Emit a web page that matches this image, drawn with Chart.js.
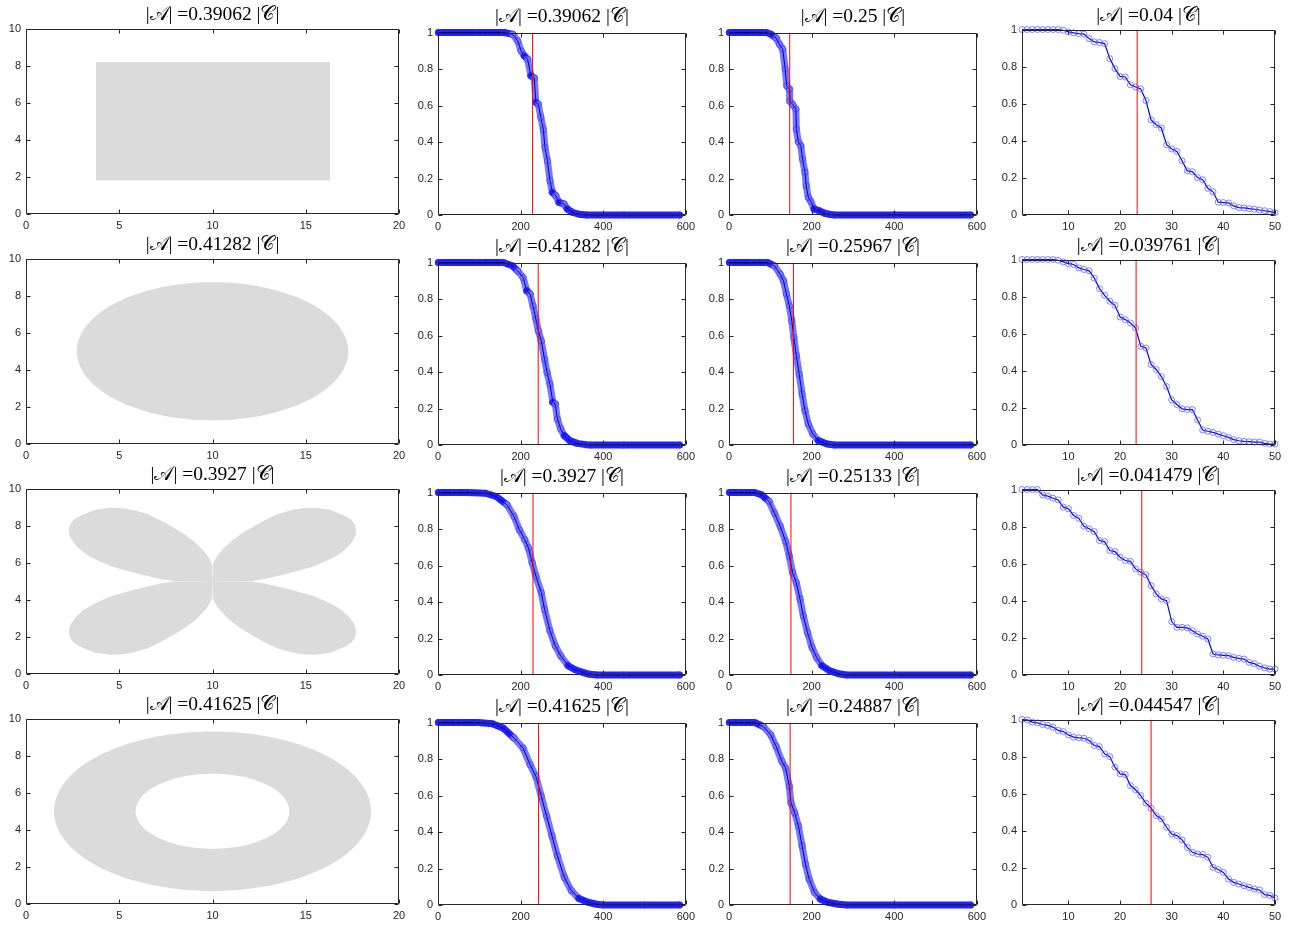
<!DOCTYPE html>
<html>
<head>
<meta charset="utf-8">
<script src="https://cdn.jsdelivr.net/npm/chart.js@4.4.1/dist/chart.umd.min.js"></script>
<style>
  html, body { margin: 0; padding: 0; background: #fff; }
  body { position: relative; width: 1303px; height: 928px; overflow: hidden; }
  canvas { position: absolute; }
</style>
</head>
<body>
<script>
// tick labels
const shapeXTicks = [0, 5, 10, 15, 20];
const shapeYTicks = [0, 2, 4, 6, 8, 10];
const sweepXTicks = [0, 200, 400, 600];
const idxXTicks = [10, 20, 30, 40, 50];
const probTicks = [0, 0.2, 0.4, 0.6, 0.8, 1];

// titles: |A| = v |C|
const titleCol1 = ['0.39062', '0.41282', '0.3927', '0.41625'];
const titleCol2 = ['0.39062', '0.41282', '0.3927', '0.41625'];
const titleCol3 = ['0.25', '0.25967', '0.25133', '0.24887'];
const titleCol4 = ['0.04', '0.039761', '0.041479', '0.044547'];

// column 1 shapes
const rectX = [3.75, 16.3, 16.3, 3.75];
const rectY = [1.8, 1.8, 8.2, 8.2];
const ellCenter = [10, 5];
const ellRadii = [7.28, 3.72];
// upper-left petal outline, the other three are its mirror images about (10, 5)
const petalX = [10, 7.9, 7.2, 6.64, 6.0, 5.39, 4.6, 3.96, 3.45, 3.07, 2.7, 2.45, 2.33, 2.3, 2.36, 2.55, 2.8, 3.07, 3.7, 4.5, 5.2, 5.75, 6.5, 7.18, 7.85, 8.43, 8.95, 9.32, 9.6, 9.77, 9.9, 9.98, 10];
const petalY = [5, 5.02, 5.12, 5.25, 5.4, 5.56, 5.8, 6.06, 6.32, 6.56, 6.9, 7.22, 7.5, 7.76, 8.05, 8.3, 8.48, 8.6, 8.85, 8.96, 8.93, 8.84, 8.62, 8.3, 7.93, 7.58, 7.2, 6.86, 6.55, 6.33, 6.1, 5.88, 5];
const ringCenter = [10, 5];
const ringOuter = [8.5, 4.3];
const ringInner = [4.12, 2.02];

// column 2 curves
const c2x1 = [1, 100, 161, 181, 193, 201, 209, 217, 225, 233, 237, 243, 249, 255, 259, 265, 271, 277, 285, 293, 305, 313, 325, 341, 360, 450, 585];
const c2y1 = [1, 1, 1, 0.99, 0.954, 0.9, 0.872, 0.854, 0.763, 0.75, 0.617, 0.606, 0.535, 0.47, 0.37, 0.297, 0.188, 0.124, 0.106, 0.069, 0.06, 0.033, 0.015, 0.004, 0, 0, 0];
const c2x2 = [1, 100, 158, 180, 193, 206, 215, 223, 230, 237, 243, 250, 258, 264, 271, 278, 284, 289, 297, 306, 319, 337, 358, 370, 450, 585];
const c2y2 = [1, 1, 1, 0.982, 0.954, 0.918, 0.845, 0.827, 0.763, 0.69, 0.626, 0.571, 0.47, 0.398, 0.334, 0.234, 0.224, 0.142, 0.088, 0.051, 0.024, 0.009, 0.002, 0, 0, 0];
const c2x3 = [1, 40, 71, 115, 141, 167, 184, 197, 210, 219, 228, 237, 250, 258, 271, 284, 297, 315, 332, 350, 367, 385, 450, 585];
const c2y3 = [1, 1, 1, 0.996, 0.978, 0.933, 0.869, 0.796, 0.742, 0.696, 0.615, 0.542, 0.451, 0.36, 0.242, 0.16, 0.105, 0.051, 0.029, 0.015, 0.004, 0, 0, 0];
const c2x4 = [1, 50, 97, 132, 158, 184, 206, 223, 237, 250, 263, 276, 289, 306, 323, 341, 363, 384, 400, 500, 585];
const c2y4 = [1, 1, 1, 0.993, 0.969, 0.915, 0.86, 0.769, 0.705, 0.596, 0.487, 0.378, 0.269, 0.151, 0.078, 0.036, 0.015, 0.004, 0, 0, 0];

// column 3 curves
const c3x1 = [1, 60, 90, 102, 114, 122, 130, 136, 140, 146, 147, 154, 162, 163, 168, 174, 178, 184, 187, 192, 198, 206, 218, 230, 242, 255, 400, 585];
const c3y1 = [1, 1, 1, 0.99, 0.97, 0.936, 0.91, 0.8, 0.708, 0.69, 0.624, 0.606, 0.58, 0.47, 0.4, 0.38, 0.307, 0.234, 0.16, 0.097, 0.075, 0.033, 0.024, 0.011, 0.004, 0, 0, 0];
const c3x2 = [1, 60, 93, 110, 124, 132, 139, 146, 152, 157, 163, 170, 177, 184, 192, 203, 216, 238, 255, 400, 585];
const c3y2 = [1, 1, 1, 0.982, 0.936, 0.9, 0.827, 0.763, 0.68, 0.589, 0.489, 0.388, 0.279, 0.188, 0.115, 0.06, 0.024, 0.005, 0, 0, 0];
const c3x3 = [1, 30, 62, 79, 97, 110, 124, 137, 146, 154, 163, 172, 180, 190, 201, 212, 225, 243, 265, 285, 400, 585];
const c3y3 = [1, 1, 1, 0.987, 0.951, 0.887, 0.815, 0.733, 0.651, 0.56, 0.505, 0.415, 0.324, 0.233, 0.151, 0.096, 0.051, 0.024, 0.007, 0, 0, 0];
const c3x4 = [1, 30, 62, 83, 101, 114, 128, 137, 146, 150, 159, 168, 177, 185, 194, 207, 221, 238, 265, 285, 400, 585];
const c3y4 = [1, 1, 1, 0.978, 0.933, 0.869, 0.787, 0.751, 0.651, 0.56, 0.505, 0.433, 0.324, 0.224, 0.142, 0.069, 0.033, 0.015, 0.004, 0, 0, 0];

// column 4 curves (index 1..50)
const idx50 = Array.from({length: 50}, (_, i) => i + 1);
const c4y1 = [1, 1, 1, 1, 1, 1, 1, 1, 0.996, 0.987,
  0.982, 0.978, 0.975, 0.951, 0.933, 0.93, 0.924, 0.843, 0.789, 0.747,
  0.744, 0.702, 0.69, 0.68, 0.617, 0.513, 0.487, 0.469, 0.379, 0.356,
  0.343, 0.292, 0.238, 0.233, 0.202, 0.19, 0.144, 0.125, 0.069, 0.067,
  0.065, 0.049, 0.04, 0.038, 0.034, 0.031, 0.027, 0.023, 0.018, 0.013];
const c4y2 = [1, 1, 1, 1, 1, 1, 1, 0.996, 0.987, 0.978,
  0.973, 0.955, 0.946, 0.939, 0.9, 0.843, 0.807, 0.775, 0.753, 0.69,
  0.676, 0.658, 0.631, 0.532, 0.523, 0.434, 0.407, 0.369, 0.315, 0.243,
  0.218, 0.195, 0.191, 0.191, 0.135, 0.081, 0.074, 0.068, 0.059, 0.05,
  0.041, 0.029, 0.023, 0.02, 0.018, 0.016, 0.016, 0.009, 0.005, 0.005];
const c4y3 = [1, 1, 1, 1, 0.971, 0.964, 0.953, 0.944, 0.905, 0.896,
  0.86, 0.845, 0.802, 0.788, 0.773, 0.725, 0.719, 0.671, 0.665, 0.635,
  0.617, 0.613, 0.572, 0.554, 0.54, 0.482, 0.437, 0.41, 0.401, 0.288,
  0.257, 0.257, 0.254, 0.239, 0.221, 0.209, 0.194, 0.113, 0.108, 0.106,
  0.104, 0.095, 0.09, 0.086, 0.068, 0.061, 0.047, 0.038, 0.032, 0.032];
const c4y4 = [1, 0.998, 0.986, 0.982, 0.973, 0.968, 0.959, 0.941, 0.935, 0.917,
  0.905, 0.901, 0.899, 0.887, 0.86, 0.854, 0.815, 0.8, 0.743, 0.707,
  0.703, 0.644, 0.621, 0.59, 0.549, 0.522, 0.482, 0.464, 0.419, 0.383,
  0.374, 0.351, 0.311, 0.284, 0.275, 0.272, 0.257, 0.203, 0.191, 0.176,
  0.14, 0.122, 0.113, 0.104, 0.095, 0.086, 0.081, 0.056, 0.052, 0.038];

// red threshold lines
const cutCol2 = [229, 242.6, 230, 243.5];
const cutCol3 = [147, 156, 150, 148];
const cutCol4 = [23.3, 23.1, 24.2, 26.0];

// layout
const colBox = [
  {left: 26, right: 399, top: 28, bottom: 213, yw: 26, pb: 4},
  {left: 438, right: 688, top: 32, bottom: 214, yw: 34, pb: 6},
  {left: 729, right: 979, top: 32, bottom: 214, yw: 34, pb: 6},
  {left: 1022, right: 1275, top: 29, bottom: 214, yw: 34, pb: 4}
];
const ROW_STEP = 230, TITLE_SIZE = 19.5, XH = 20, RPAD = 12;
const AXIS_COLOR = '#262626';
const SHAPE_GRAY = '#dbdbdb';

const zip = (xs, ys) => xs.map((x, i) => ({x, y: ys[i]}));
const ellipse = (c, r) => {
  const pts = [];
  for (let k = 0; k < 120; k++) {
    const t = 2 * Math.PI * k / 120;
    pts.push({x: c[0] + r[0] * Math.cos(t), y: c[1] + r[1] * Math.sin(t)});
  }
  return pts;
};

// fill closed outlines (points placed by the chart's scales)
const polyFill = {
  id: 'polyFill',
  beforeDatasetsDraw(chart) {
    const ctx = chart.ctx, a = chart.chartArea;
    ctx.save();
    ctx.beginPath();
    ctx.rect(a.left, a.top, a.right - a.left, a.bottom - a.top);
    ctx.clip();
    chart.data.datasets.forEach((ds, i) => {
      if (!ds.polygon) return;
      const pts = chart.getDatasetMeta(i).data;
      ctx.beginPath();
      pts.forEach((p, j) => j ? ctx.lineTo(p.x, p.y) : ctx.moveTo(p.x, p.y));
      ctx.closePath();
      ctx.fillStyle = ds.fillColor;
      ctx.fill();
    });
    ctx.restore();
  }
};

// box frame with inward ticks on all sides
const frame = {
  id: 'frame',
  afterDatasetsDraw(chart) {
    const {ctx, chartArea: a} = chart;
    const xs = chart.scales.x, ys = chart.scales.y;
    const L = Math.round(a.left) + 0.5, R = Math.round(a.right) - 0.5;
    const T = Math.round(a.top) + 0.5, B = Math.round(a.bottom) - 0.5;
    ctx.save();
    ctx.strokeStyle = AXIS_COLOR;
    ctx.lineWidth = 1;
    ctx.beginPath();
    ctx.rect(L, T, R - L, B - T);
    xs.ticks.forEach(t => {
      const px = Math.round(xs.getPixelForValue(t.value)) + 0.5;
      ctx.moveTo(px, B); ctx.lineTo(px, B - 4);
      ctx.moveTo(px, T); ctx.lineTo(px, T + 4);
    });
    ys.ticks.forEach(t => {
      const py = Math.round(ys.getPixelForValue(t.value)) + 0.5;
      ctx.moveTo(L, py); ctx.lineTo(L + 4, py);
      ctx.moveTo(R, py); ctx.lineTo(R - 4, py);
    });
    ctx.stroke();
    ctx.restore();
  }
};

function axis(min, max, ticks, fit) {
  return {
    type: 'linear', min, max,
    afterBuildTicks: s => { s.ticks = ticks.map(v => ({value: v})); },
    afterFit: fit,
    grid: {display: false, drawTicks: false},
    border: {display: false},
    ticks: {
      autoSkip: false, maxRotation: 0, padding: 5, color: AXIS_COLOR,
      font: {family: "'Liberation Sans', Arial, sans-serif", size: 11},
      callback: v => String(v)
    }
  };
}

function addChart(col, row, value, datasets, xr, yr) {
  const g = colBox[col];
  const th = TITLE_SIZE + g.pb;
  const cv = document.createElement('canvas');
  const w = g.yw + (g.right - g.left) + RPAD;
  const h = Math.round(th + (g.bottom - g.top) + XH);
  cv.width = w; cv.height = h;
  cv.style.width = w + 'px'; cv.style.height = h + 'px';
  cv.style.left = (g.left - g.yw) + 'px';
  cv.style.top = Math.round(g.top + row * ROW_STEP - th) + 'px';
  document.body.appendChild(cv);
  new Chart(cv, {
    type: 'scatter',
    data: {datasets},
    options: {
      responsive: false, animation: false, devicePixelRatio: 1,
      layout: {padding: {left: 0, top: 0, right: RPAD, bottom: 0}},
      scales: {
        x: axis(xr[0], xr[1], xr[2], s => { s.height = XH; }),
        y: axis(yr[0], yr[1], yr[2], s => { s.width = g.yw; })
      },
      plugins: {
        legend: {display: false},
        tooltip: {enabled: false},
        title: {
          display: true,
          fullSize: false,
          text: '|\u{1D49C}| =' + value + ' |\u{1D49E}|',
          color: '#000',
          font: {family: "'Liberation Serif', 'DejaVu Serif', serif", size: TITLE_SIZE, lineHeight: 1, weight: 'normal'},
          padding: {top: 0, bottom: g.pb}
        }
      }
    },
    plugins: [polyFill, frame]
  });
}

const shapeSet = (pts, color) => ({data: pts, polygon: true, fillColor: color, showLine: false, pointRadius: 0});
const cutSet = (x) => ({
  data: [{x, y: 0}, {x, y: 1}], showLine: true, borderColor: '#ff0000', borderWidth: 1,
  pointRadius: 0, order: 1
});
const steep = c => Math.abs(c.p1.y - c.p0.y) > Math.abs(c.p1.x - c.p0.x);
const sweepSets = (xs, ys, cut) => [
  {
    data: zip(xs, ys), showLine: true, borderWidth: 7, borderColor: '#2020ff',
    segment: {borderColor: c => steep(c) ? '#7878ff' : '#2020ff'},
    borderCapStyle: 'round', borderJoinStyle: 'round', pointRadius: 0, clip: false, order: 3
  },
  {
    data: zip(xs, ys), showLine: true, borderWidth: 1, borderColor: '#0000b4',
    pointRadius: 3.2, pointBorderWidth: 1, pointBorderColor: 'rgba(50,50,255,0.6)',
    pointBackgroundColor: 'rgba(0,0,0,0)', clip: false, order: 2
  },
  cutSet(cut)
];
const idxSets = (ys, cut) => [
  {
    data: zip(idx50, ys), showLine: true, borderWidth: 1.2, borderColor: '#0000ff',
    pointRadius: 3, pointBorderWidth: 1, pointBorderColor: 'rgba(90,90,255,0.75)',
    pointBackgroundColor: 'rgba(0,0,0,0)', clip: false, order: 2
  },
  cutSet(cut)
];

const shapeRange = [[0, 20, shapeXTicks], [0, 10, shapeYTicks]];
const sweepRange = [[0, 600, sweepXTicks], [0, 1, probTicks]];
const idxRange = [[1, 50, idxXTicks], [0, 1, probTicks]];

const shapes = [
  [shapeSet(zip(rectX, rectY), SHAPE_GRAY)],
  [shapeSet(ellipse(ellCenter, ellRadii), SHAPE_GRAY)],
  [[1, 1], [-1, 1], [1, -1], [-1, -1]].map(([sx, sy]) =>
    shapeSet(petalX.map((x, i) => ({x: 10 + sx * (x - 10), y: 5 + sy * (petalY[i] - 5)})), SHAPE_GRAY)),
  [shapeSet(ellipse(ringCenter, ringOuter), SHAPE_GRAY), shapeSet(ellipse(ringCenter, ringInner), '#ffffff')]
];
const col2 = [[c2x1, c2y1], [c2x2, c2y2], [c2x3, c2y3], [c2x4, c2y4]];
const col3 = [[c3x1, c3y1], [c3x2, c3y2], [c3x3, c3y3], [c3x4, c3y4]];
const col4 = [c4y1, c4y2, c4y3, c4y4];

for (let r = 0; r < 4; r++) {
  addChart(0, r, titleCol1[r], shapes[r], ...shapeRange);
  addChart(1, r, titleCol2[r], sweepSets(col2[r][0], col2[r][1], cutCol2[r]), ...sweepRange);
  addChart(2, r, titleCol3[r], sweepSets(col3[r][0], col3[r][1], cutCol3[r]), ...sweepRange);
  addChart(3, r, titleCol4[r], idxSets(col4[r], cutCol4[r]), ...idxRange);
}
</script>
</body>
</html>
